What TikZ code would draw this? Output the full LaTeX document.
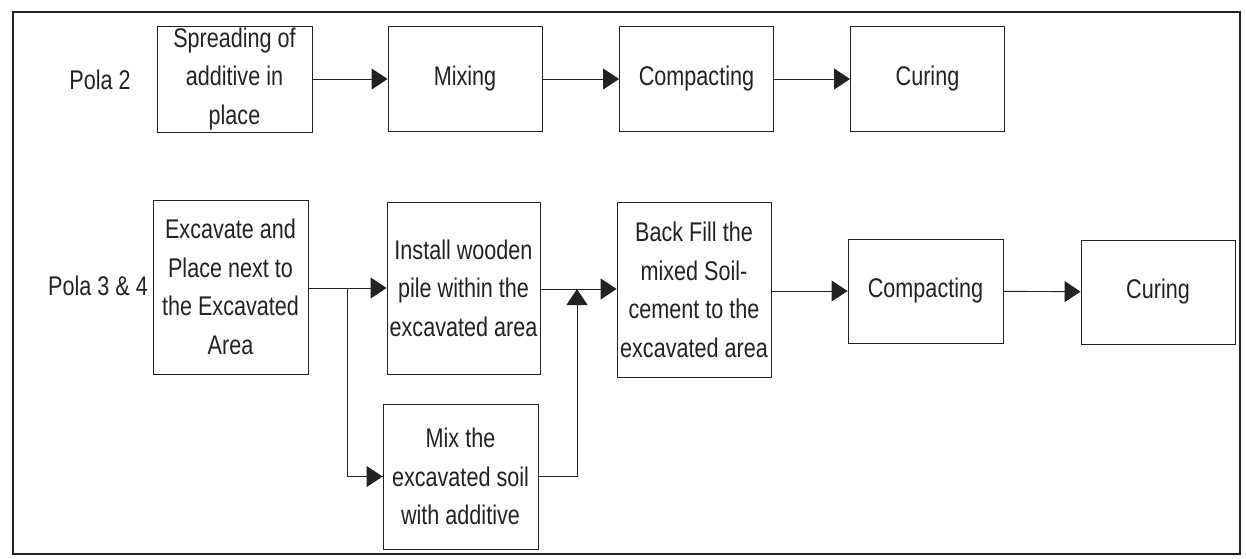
\documentclass[tikz,border=0pt]{standalone}
\usepackage{fontspec}
\setmainfont{Liberation Sans}[FakeStretch=0.8]
\usetikzlibrary{arrows.meta}
\definecolor{ink}{HTML}{222222}
\tikzset{
  box/.style={draw=ink, line width=0.9pt, align=center, inner sep=0pt,
    font=\fontsize{27}{38.5}\selectfont, text=ink},
  lbl/.style={font=\fontsize{27}{38.5}\selectfont, text=ink, inner sep=0pt},
  conn/.style={draw=ink, line width=0.9pt},
  arr/.style={conn, -{Triangle[length=16pt,width=21pt]}},
  frame/.style={draw=ink, line width=2pt},
}
\begin{document}
\begin{tikzpicture}[x=1pt,y=-1pt]
\useasboundingbox (0,0) rectangle (1246,558);
\draw[frame] (13,12) rectangle (1240,554);
% Row 1
\node[lbl] (p2) at (100,80) {Pola 2};
\node[box, minimum width=155pt, minimum height=106pt] (sp) at (234.5,79) {Spreading of\\additive in\\place};
\node[box, minimum width=154pt, minimum height=105pt] (mix) at (465,79) {Mixing};
\node[box, minimum width=154pt, minimum height=105pt] (comp) at (696.5,79) {Compacting};
\node[box, minimum width=154pt, minimum height=105pt] (cur) at (927.5,79) {Curing};
\draw[arr] (sp) -- (mix);
\draw[arr] (mix) -- (comp);
\draw[arr] (comp) -- (cur);
% Row 2
\node[lbl] (p34) at (98,286) {Pola 3 \& 4};
\node[box, minimum width=155pt, minimum height=174pt] (exc) at (230.5,287) {Excavate and\\Place next to\\the Excavated\\Area};
\node[box, minimum width=153pt, minimum height=172pt] (ins) at (463.5,288) {Install wooden\\pile within the\\excavated area};
\node[box, minimum width=155pt, minimum height=145pt] (mixs) at (460.5,476.5) {Mix the\\excavated soil\\with additive};
\node[box, minimum width=154pt, minimum height=175pt] (bf) at (694,290) {Back Fill the\\mixed Soil-\\cement to the\\excavated area};
\node[box, minimum width=155pt, minimum height=104pt] (comp2) at (925.5,291) {Compacting};
\node[box, minimum width=154pt, minimum height=104pt] (cur2) at (1158,292) {Curing};
\coordinate (j1) at (347,288);
\coordinate (j2) at (577,289);
\draw[arr] (exc.east |- j1) -- (ins.west |- j1);
\draw[conn] (j1) |- (mixs.west);
\draw[arr] (j1 |- mixs.west) -- (mixs.west);
\draw[arr] (ins.east |- j2) -- (bf.west |- j2);
\draw[arr] (mixs.east) -| (j2);
\draw[arr] (bf.east |- comp2) -- (comp2.west);
\draw[arr] (comp2) -- (cur2);
\end{tikzpicture}
\end{document}
